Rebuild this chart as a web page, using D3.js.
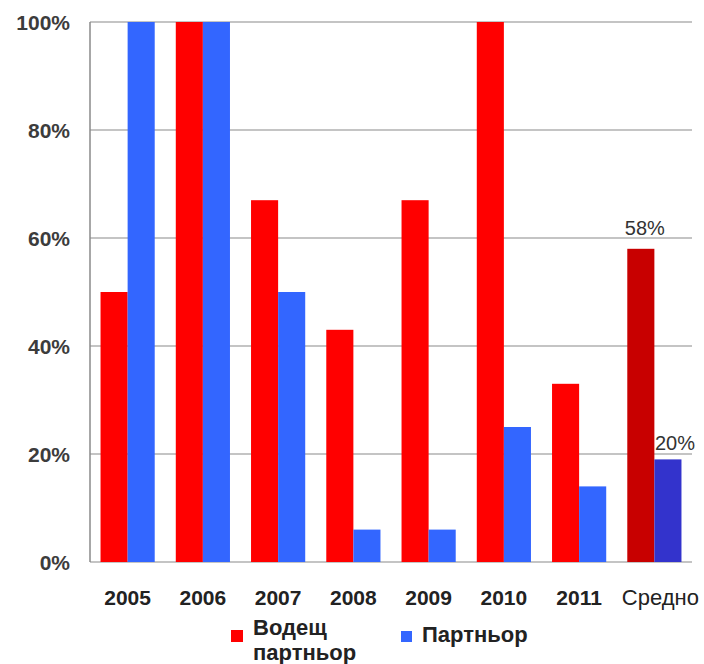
<!DOCTYPE html>
<html>
<head>
<meta charset="utf-8">
<script src="https://cdn.jsdelivr.net/npm/d3@7"></script>
<style>
  body { margin: 0; background: #fff; }
  text { font-family: "Liberation Sans", Arial, sans-serif; }
</style>
</head>
<body>
<div id="chart"></div>
<script>
// data
var categories = ["2005", "2006", "2007", "2008", "2009", "2010", "2011", "Средно"];
var leading = [50, 100, 67, 43, 67, 100, 33, 58];
var partner = [100, 100, 50, 6, 6, 25, 14, 19];
var avgLabels = ["58%", "20%"];
var yTicks = [0, 20, 40, 60, 80, 100];

var W = 704, H = 664;
var m = {left: 90, right: 12, top: 22, bottom: 102};

var svg = d3.select("#chart").append("svg").attr("width", W).attr("height", H);

var x = d3.scaleBand().domain(categories).range([m.left, W - m.right]).paddingInner(0.28).paddingOuter(0.14);
var y = d3.scaleLinear().domain([0, 100]).range([H - m.bottom, m.top]);

//gridlines
svg.append("g").selectAll("line").data(yTicks).enter().append("line")
    .attr("x1", m.left).attr("x2", W - m.right)
    .attr("y1", d => y(d)).attr("y2", d => y(d))
    .attr("stroke", "#8a8a8a").attr("stroke-width", 1.2);

//left axis line
svg.append("line").attr("x1", m.left).attr("x2", m.left)
    .attr("y1", y(100)).attr("y2", y(0))
    .attr("stroke", "#8a8a8a").attr("stroke-width", 1.5);

//y tick labels
svg.append("g").selectAll("text").data(yTicks).enter().append("text")
    .attr("x", 70).attr("y", d => y(d)).attr("dy", "0.36em")
    .attr("text-anchor", "end")
    .style("font-size", "21px").style("font-weight", "bold").style("fill", "#3c3c3c")
    .text(d => d + "%");

var bw = x.bandwidth() / 2;
var last = categories[categories.length - 1];

//bars
var g = svg.append("g");
g.selectAll(".lead").data(categories).enter().append("rect")
    .attr("x", d => x(d)).attr("width", bw)
    .attr("y", (d, i) => y(leading[i])).attr("height", (d, i) => y(0) - y(leading[i]))
    .attr("fill", d => d === last ? "#c80000" : "#ff0000");
g.selectAll(".part").data(categories).enter().append("rect")
    .attr("x", d => x(d) + bw).attr("width", bw)
    .attr("y", (d, i) => y(partner[i])).attr("height", (d, i) => y(0) - y(partner[i]))
    .attr("fill", d => d === last ? "#3333cc" : "#3366ff");

//average value labels
svg.append("text").attr("x", x(last) + bw / 2 + 4).attr("y", y(leading[7]) - 14)
    .attr("text-anchor", "middle")
    .style("font-size", "20px").style("fill", "#333").text(avgLabels[0]);
svg.append("text").attr("x", x(last) + bw * 1.5 + 7).attr("y", y(partner[7]) - 9)
    .attr("text-anchor", "middle")
    .style("font-size", "20px").style("fill", "#333").text(avgLabels[1]);

//x labels
svg.append("g").selectAll("text").data(categories).enter().append("text")
    .attr("x", d => x(d) + x.bandwidth() / 2 + (d === last ? 6 : 0))
    .attr("y", 605)
    .attr("text-anchor", "middle")
    .style("font-size", d => d === last ? "22px" : "21px")
    .style("font-weight", d => d === last ? "normal" : "bold")
    .style("fill", "#222")
    .text(d => d);

//legend
var leg = svg.append("g");
leg.append("rect").attr("x", 231).attr("y", 630).attr("width", 12).attr("height", 12).attr("fill", "#ff0000");
leg.append("text").attr("x", 253).attr("y", 635).style("font-size", "22px").style("font-weight", "bold").style("fill", "#222").text("Водещ");
leg.append("text").attr("x", 253).attr("y", 660).style("font-size", "22px").style("font-weight", "bold").style("fill", "#222").text("партньор");
leg.append("rect").attr("x", 401).attr("y", 631).attr("width", 11).attr("height", 11).attr("fill", "#3366ff");
leg.append("text").attr("x", 422).attr("y", 642).style("font-size", "22px").style("font-weight", "bold").style("fill", "#222").text("Партньор");
</script>
</body>
</html>
